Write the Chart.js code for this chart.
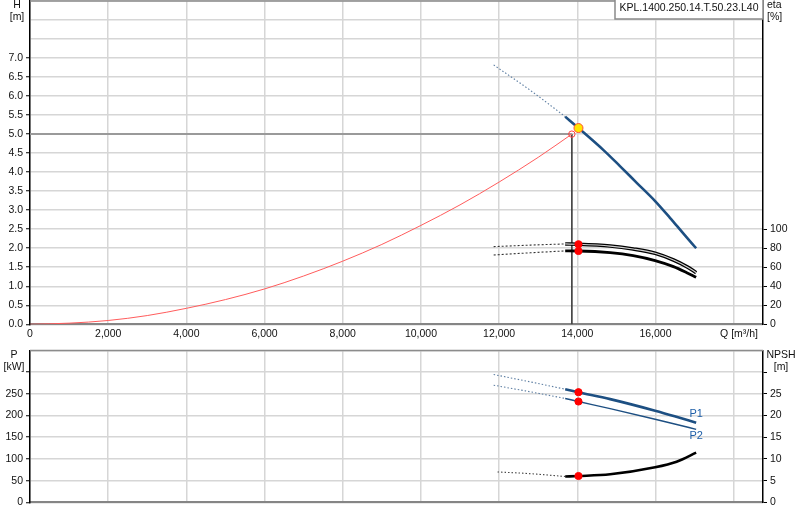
<!DOCTYPE html>
<html><head><meta charset="utf-8">
<script src="https://cdn.jsdelivr.net/npm/chart.js@4.4.1/dist/chart.umd.min.js"></script>
<style>
html,body{margin:0;padding:0;background:#fff;width:800px;height:520px;overflow:hidden}
#c1{position:absolute;left:0;top:0}
#c2{position:absolute;left:0;top:345px}
</style></head><body>
<canvas id="c1" width="800" height="345"></canvas>
<canvas id="c2" width="800" height="175"></canvas>
<script>
// ---------- data ----------
const pumpName = 'KPL.1400.250.14.T.50.23.L40';

// Flow axis ticks [m³/h]
const qTicks = [0, 2000, 4000, 6000, 8000, 10000, 12000, 14000, 16000, 18000];

// Head curve H [m]
const headDashQ = [11860, 12800, 13690];
const headDashH = [6.82, 6.15, 5.46];
const headQ = [13690, 14030, 14670, 15090, 15520, 15990, 16370, 16710, 17040];
const headH = [5.46, 5.16, 4.58, 4.16, 3.72, 3.24, 2.80, 2.39, 2.00];

// Efficiency curves eta [%]
const etaDashQ = [11860, 12800, 13690];
const eta1Dash = [81.7, 83.3, 84.5];
const eta2Dash = [72.9, 75.2, 77.2];
const etaQ = [13690, 14030, 14840, 15430, 15990, 16460, 16800, 17040];
const eta1 = [84.5, 84.2, 82.3, 79.2, 74.7, 67.6, 60.6, 54.3];
const eta2 = [77.2, 77.1, 75.3, 72.1, 66.9, 60.6, 54.3, 49.4];

// System curve H [m]
const systemQ = [0, 1000, 2000, 3000, 4000, 5000, 6000, 7000, 8000, 9000, 10000, 11000, 12000, 13000, 13860];
const systemH = [0, 0.03, 0.10, 0.23, 0.42, 0.65, 0.93, 1.27, 1.66, 2.10, 2.60, 3.14, 3.74, 4.39, 5.00];

// Operating points
const opQ = 14030, opH = 5.16, opEta1 = 84.2, opEta2 = 77.1;
const sysOpQ = 13860, sysOpH = 5.0;

// Power curves P [kW]
const powerDashQ = [11860, 12800, 13690];
const p1Dash = [294.7, 277.6, 260.8];
const p2Dash = [270.0, 254.7, 239.4];
const powerQ = [13690, 14030, 14840, 15990, 16490, 17040];
const p1 = [260.8, 253.8, 237.9, 211.2, 198.4, 183.5];
const p2 = [239.4, 232.4, 215.9, 191.4, 180.5, 168.3];
const opP1 = 253.8, opP2 = 232.4;

// NPSH [m]
const npshDashQ = [11960, 12800, 13690];
const npshDash = [7.0, 6.6, 5.95];
const npshQ = [13690, 14030, 14840, 15990, 16540, 17040];
const npsh = [5.95, 6.06, 6.46, 8.07, 9.36, 11.44];
const opNpsh = 6.06;

// Axis settings
const qMax = 18750, qLabelSkip = 18000;
const hMax = 8.5, hStep = 0.5, hLabelMax = 7.0;
const etaMax = 340, etaStep = 20, etaLabelMax = 100;
const pMax = 350, pStep = 50, pLabelMax = 250, pTickMax = 300;
const nMax = 35, nStep = 5, nLabelMax = 25, nTickMax = 30;

// ---------- chart ----------
const FONT = '"Liberation Sans", Arial, sans-serif';
Chart.defaults.font.family = FONT;
Chart.defaults.font.size = 10.5;
Chart.defaults.color = '#111';

const pts = (xs, ys) => xs.map((x, i) => ({x: x, y: ys[i]}));
const BLUE = '#1d4f82';
const GRID = '#d6d6d6';

function line(data, axis, color, width, order, extra) {
  return Object.assign({data: data, yAxisID: axis, borderColor: color, borderWidth: width,
    pointRadius: 0, fill: false, cubicInterpolationMode: 'monotone', order: order}, extra || {});
}
function dot(data, axis, fillC, strokeC, r, order) {
  return {data: data, yAxisID: axis, showLine: false, pointRadius: r, pointBackgroundColor: fillC,
    pointBorderColor: strokeC, pointBorderWidth: 1, order: order, borderColor: strokeC};
}
const noPad = s => { s.paddingTop = 0; s.paddingBottom = 0; s.paddingLeft = 0; s.paddingRight = 0; };

const xScale = (showLabels, h) => ({
  type: 'linear', min: 0, max: qMax,
  afterBuildTicks: s => { s.ticks = qTicks.map(v => ({value: v})); },
  ticks: {display: showLabels, padding: 4, maxRotation: 0, autoSkip: false,
    callback: v => v === qLabelSkip ? '' : Number(v).toLocaleString('en-US')},
  grid: {color: GRID, lineWidth: 1.5, drawTicks: false},
  border: {color: '#858585', width: 2},
  afterFit: s => { s.height = h; noPad(s); }
});

// Top chart
const topPlugin = {
  id: 'topDecor',
  afterDraw(chart) {
    const {ctx, chartArea: a} = chart;
    ctx.save();
    ctx.strokeStyle = '#8c8c8c'; ctx.lineWidth = 1.5;
    ctx.beginPath(); ctx.moveTo(a.left, a.top); ctx.lineTo(a.right, a.top); ctx.stroke();
    ctx.fillStyle = '#111'; ctx.font = '10.5px ' + FONT; ctx.textBaseline = 'middle';
    ctx.textAlign = 'center';
    ctx.fillText('H', 17, 5.5); ctx.fillText('[m]', 17, 17);
    ctx.textAlign = 'left';
    ctx.fillText('eta', 767, 5.5); ctx.fillText('[%]', 767, 17);
    ctx.textAlign = 'center';
    ctx.fillText('Q [m³/h]', 739, 334.5);
    // title box
    ctx.fillStyle = '#fff'; ctx.fillRect(615, -2, a.right - 615, 21);
    ctx.strokeStyle = '#8a8a8a'; ctx.lineWidth = 1.5;
    ctx.strokeRect(615, -2, a.right - 615, 21);
    ctx.fillStyle = '#111'; ctx.font = '10.5px ' + FONT;
    ctx.fillText(pumpName, 689, 8);
    ctx.restore();
  }
};

new Chart(document.getElementById('c1'), {
  type: 'line',
  data: {datasets: [
    dot([{x: opQ, y: opH}], 'y', '#ffe600', '#ff5030', 4.5, 0),
    dot([{x: opQ, y: opEta1}, {x: opQ, y: opEta2}], 'y2', '#ff0000', '#ff0000', 3.6, 0),
    dot([{x: sysOpQ, y: sysOpH}], 'y', 'rgba(255,255,255,0)', '#ff4040', 3.2, 1),
    line(pts(headQ, headH), 'y', BLUE, 2.6, 2),
    line(pts(etaQ, eta1), 'y2', '#d0d0d0', 1.2, 2),
    line(pts(etaQ, eta1), 'y2', '#000', 3.6, 3),
    line(pts(etaQ, eta2), 'y2', '#000', 2.8, 3),
    line(pts(headDashQ, headDashH), 'y', '#5d7ea2', 1.1, 4, {borderDash: [1.5, 2]}),
    line(pts(etaDashQ, eta1Dash), 'y2', '#333', 1.1, 4, {borderDash: [2, 2]}),
    line(pts(etaDashQ, eta2Dash), 'y2', '#333', 1.1, 4, {borderDash: [2, 2]}),
    line(pts(systemQ, systemH), 'y', '#ff5c5c', 1, 5),
    line([{x: 0, y: sysOpH}, {x: sysOpQ, y: sysOpH}], 'y', '#9a9a9a', 2, 8, {cubicInterpolationMode: 'default', tension: 0}),
    line([{x: sysOpQ, y: sysOpH}, {x: sysOpQ, y: 0}], 'y', '#444', 1, 8, {cubicInterpolationMode: 'default', tension: 0})
  ]},
  options: {
    responsive: false, animation: false, devicePixelRatio: 1,
    layout: {autoPadding: false, padding: {top: 1, left: 0, right: 0, bottom: 0}},
    plugins: {legend: {display: false}, tooltip: {enabled: false}},
    scales: {
      x: xScale(true, 20.7),
      y: {type: 'linear', position: 'left', min: 0, max: hMax,
        ticks: {stepSize: hStep, padding: 3, callback: v => v > hLabelMax ? '' : Number(v).toFixed(1)},
        grid: {color: GRID, lineWidth: 1.5, tickLength: 4,
          tickColor: c => (c.tick && c.tick.value > hLabelMax) ? 'rgba(0,0,0,0)' : '#000', tickWidth: 1},
        border: {color: '#000', width: 1.5},
        afterFit: s => { s.width = 30; noPad(s); }
      },
      y2: {type: 'linear', position: 'right', min: 0, max: etaMax,
        ticks: {stepSize: etaStep, padding: 3},
        afterBuildTicks: s => { s.ticks = s.ticks.filter(t => t.value <= etaLabelMax); },
        grid: {drawOnChartArea: false, tickLength: 4, tickColor: '#000', tickWidth: 1},
        border: {color: '#000', width: 1.5},
        afterFit: s => { s.width = 37; noPad(s); }
      }
    }
  },
  plugins: [topPlugin]
});

// Bottom chart
const botPlugin = {
  id: 'botDecor',
  afterDraw(chart) {
    const {ctx, chartArea: a, scales} = chart;
    ctx.save();
    ctx.strokeStyle = '#8c8c8c'; ctx.lineWidth = 1.5;
    ctx.beginPath(); ctx.moveTo(a.left, a.top); ctx.lineTo(a.right, a.top); ctx.stroke();
    ctx.fillStyle = '#111'; ctx.font = '10.5px ' + FONT; ctx.textBaseline = 'middle';
    ctx.textAlign = 'center';
    ctx.fillText('P', 14, 10); ctx.fillText('[kW]', 14, 22);
    ctx.fillText('NPSH', 781, 10); ctx.fillText('[m]', 781, 22);
    ctx.fillStyle = '#1f5fa8'; ctx.font = '11px ' + FONT;
    const lx = scales.x.getPixelForValue(powerQ[powerQ.length - 1]);
    ctx.fillText('P1', lx, scales.y.getPixelForValue(p1[p1.length - 1]) - 9);
    ctx.fillText('P2', lx, scales.y.getPixelForValue(p2[p2.length - 1]) + 7);
    ctx.restore();
  }
};

new Chart(document.getElementById('c2'), {
  type: 'line',
  data: {datasets: [
    dot([{x: opQ, y: opP1}, {x: opQ, y: opP2}], 'y', '#ff0000', '#ff0000', 3.6, 0),
    dot([{x: opQ, y: opNpsh}], 'y2', '#ff0000', '#ff0000', 3.6, 0),
    line(pts(powerQ, p1), 'y', BLUE, 2.6, 2),
    line(pts(powerQ, p2), 'y', BLUE, 1.4, 2),
    line(pts(npshQ, npsh), 'y2', '#000', 2.6, 2),
    line(pts(powerDashQ, p1Dash), 'y', '#5d7ea2', 1.1, 4, {borderDash: [1.5, 2]}),
    line(pts(powerDashQ, p2Dash), 'y', '#5d7ea2', 1.1, 4, {borderDash: [1.5, 2]}),
    line(pts(npshDashQ, npshDash), 'y2', '#444', 1.1, 4, {borderDash: [1.5, 2]})
  ]},
  options: {
    responsive: false, animation: false, devicePixelRatio: 1,
    layout: {autoPadding: false, padding: {top: 5.5, left: 0, right: 0, bottom: 0}},
    plugins: {legend: {display: false}, tooltip: {enabled: false}},
    scales: {
      x: xScale(false, 17.7),
      y: {type: 'linear', position: 'left', min: 0, max: pMax,
        ticks: {stepSize: pStep, padding: 3, callback: v => v > pLabelMax ? '' : String(v)},
        grid: {color: GRID, lineWidth: 1.5, tickLength: 4,
          tickColor: c => (c.tick && c.tick.value > pTickMax) ? 'rgba(0,0,0,0)' : '#000', tickWidth: 1},
        border: {color: '#000', width: 1.5},
        afterFit: s => { s.width = 30; noPad(s); }
      },
      y2: {type: 'linear', position: 'right', min: 0, max: nMax,
        ticks: {stepSize: nStep, padding: 3, callback: v => v > nLabelMax ? '' : String(v)},
        afterBuildTicks: s => { s.ticks = s.ticks.filter(t => t.value <= nTickMax); },
        grid: {drawOnChartArea: false, tickLength: 4, tickColor: '#000', tickWidth: 1},
        border: {color: '#000', width: 1.5},
        afterFit: s => { s.width = 37; noPad(s); }
      }
    }
  },
  plugins: [botPlugin]
});
</script>
</body></html>
